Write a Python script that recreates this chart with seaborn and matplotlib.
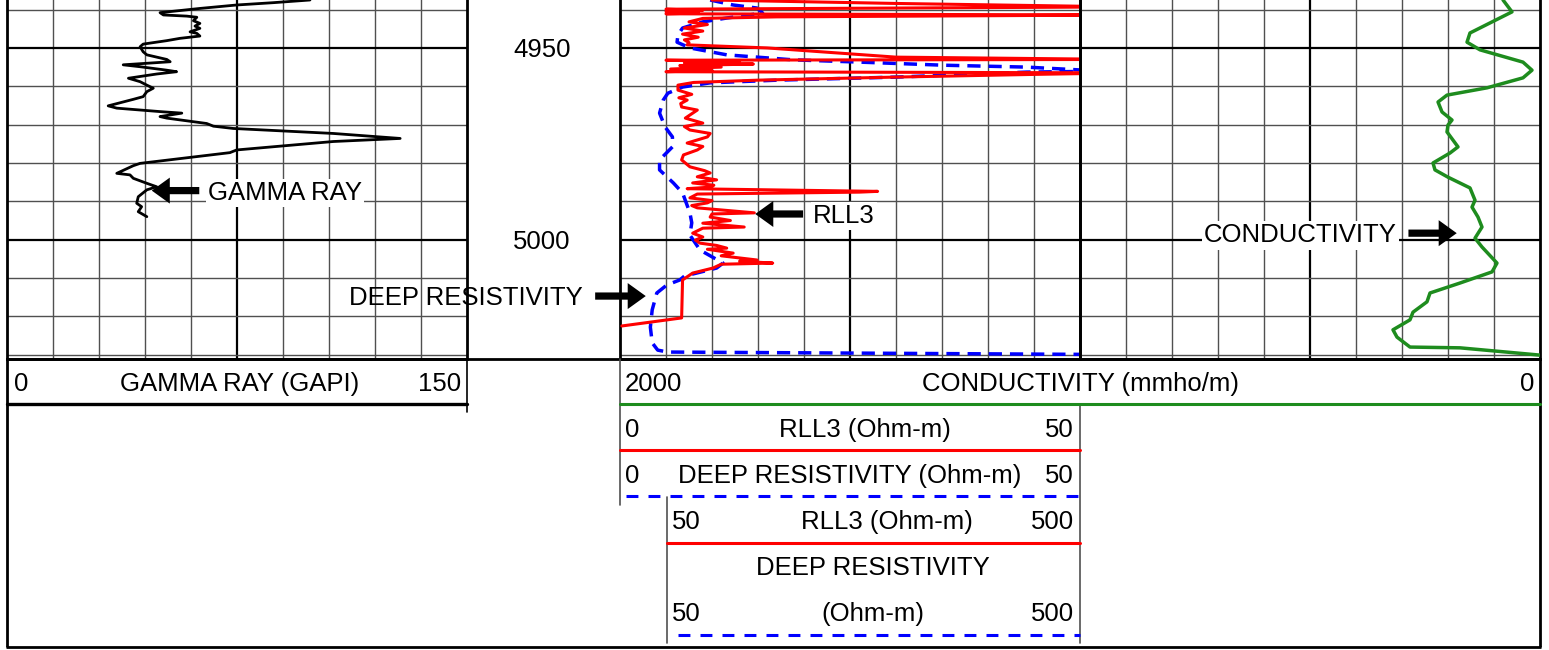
import numpy as np
import matplotlib
matplotlib.use("Agg")
import matplotlib.pyplot as plt
import seaborn as sns

# ---------------- data ----------------
gr_depth = [4937.5, 4938.2, 4938.8, 4939.7, 4940.8, 4941.4, 4941.7, 4942.0, 4942.9, 4943.6,
            4944.3, 4944.9, 4945.8, 4946.2, 4946.9, 4947.5, 4948.1, 4949.0, 4949.7, 4951.0,
            4951.8, 4953.0, 4953.6, 4954.0, 4954.4, 4954.9, 4955.8, 4956.2, 4956.8, 4957.9,
            4958.8, 4959.7, 4960.5, 4961.4, 4962.7, 4963.4, 4965.1, 4965.7, 4966.6, 4967.0,
            4967.9, 4968.3, 4969.7, 4970.4, 4971.0, 4972.3, 4973.6, 4974.4, 4976.6, 4977.3,
            4980.1, 4980.7, 4982.7, 4983.1, 4984.0, 4985.3, 4986.2, 4987.0, 4988.8, 4990.5,
            4991.4, 4992.7, 4994.0]
gr_val = [98.8, 86.8, 74.9, 62.9, 49.9, 51.0, 58.6, 61.9, 60.8, 62.9,
          61.3, 62.9, 59.7, 61.9, 62.9, 56.4, 52.1, 44.4, 43.4, 44.4,
          45.6, 52.1, 53.2, 45.6, 37.9, 43.4, 52.1, 55.3, 48.8, 39.6,
          43.4, 45.6, 47.7, 45.6, 44.4, 41.2, 33.0, 35.8, 49.9, 57.0,
          49.9, 52.1, 65.1, 67.3, 73.8, 106.4, 128.2, 106.4, 74.9, 72.7,
          43.4, 41.2, 35.8, 40.1, 41.2, 45.6, 48.8, 45.6, 42.8, 42.3,
          43.9, 42.8, 45.6]

rll3_depth = [4937.5, 4938.4, 4939.3, 4939.9, 4940.2, 4940.5, 4940.9, 4941.1, 4941.4, 4941.6,
              4941.9, 4942.3, 4943.2, 4943.9, 4944.8, 4945.6, 4946.4, 4947.2, 4947.9, 4948.6,
              4949.2, 4950.0, 4952.4, 4953.0, 4953.2, 4953.5, 4953.9, 4954.2, 4954.6, 4955.0,
              4955.5, 4955.9, 4956.2, 4956.5, 4956.9, 4957.6, 4958.4, 4959.0, 4959.7, 4961.0,
              4962.1, 4963.0, 4963.6, 4964.5, 4965.4, 4966.2, 4967.0, 4968.3, 4969.6, 4970.5,
              4971.4, 4972.3, 4973.2, 4974.8, 4975.7, 4976.6, 4977.9, 4979.2, 4981.0, 4982.0,
              4982.6, 4983.6, 4984.4, 4985.2, 4985.8, 4986.3, 4986.7, 4987.4, 4987.6, 4988.1,
              4989.1, 4989.8, 4990.4, 4991.1, 4991.7, 4993.0, 4993.3, 4994.1, 4995.0, 4995.7,
              4996.7, 4997.0, 4998.3, 4999.3, 5000.1, 5000.9, 5001.5, 5002.2, 5002.5, 5003.5,
              5004.2, 5005.3, 5005.6, 5006.1, 5006.4, 5007.4, 5008.7, 5010.5, 5020.4, 5022.5]
rll3_val = [10.0, 30.0, 55.0, 5.0, 9.0, 5.0, 8.5, 5.0, 55.0, 40.0,
            17.0, 9.0, 7.5, 9.5, 7.0, 9.0, 6.8, 8.5, 7.0, 7.5,
            7.3, 16.0, 30.0, 55.0, 5.0, 13.0, 7.0, 14.5, 6.5, 11.0,
            5.5, 10.0, 5.0, 55.0, 45.0, 30.0, 15.0, 8.0, 6.3, 6.3,
            7.8, 6.4, 7.3, 6.6, 6.7, 8.4, 7.9, 7.1, 9.0, 7.0,
            7.6, 9.8, 9.5, 7.3, 9.0, 8.4, 6.9, 6.7, 7.6, 9.2,
            9.8, 8.4, 10.5, 7.9, 10.2, 9.8, 7.3, 28.0, 26.0, 8.4,
            7.6, 10.0, 9.5, 7.8, 8.4, 14.6, 10.0, 9.8, 12.0, 9.0,
            13.5, 9.0, 7.9, 9.0, 8.2, 8.7, 10.5, 11.6, 9.5, 12.3,
            11.0, 14.9, 13.0, 16.6, 11.0, 10.1, 7.9, 6.8, 6.7, 0.2]

deep_depth = [4937.5, 4938.8, 4939.6, 4940.9, 4942.2, 4943.2, 4944.8, 4946.6, 4948.5, 4950.0,
              4951.8, 4953.1, 4953.7, 4954.5, 4955.0, 4955.8, 4956.0, 4956.3, 4957.6, 4958.4,
              4959.1, 4960.2, 4961.8, 4963.6, 4967.0, 4970.6, 4973.2, 4975.8, 4979.2, 4981.8,
              4985.2, 4987.8, 4993.0, 4995.6, 4998.8, 5002.7, 5006.1, 5007.4, 5009.5, 5010.5,
              5011.8, 5013.9, 5018.3, 5022.8, 5026.9, 5028.8, 5029.3, 5029.9, 5030.1]
deep_val = [9.8, 12.3, 14.9, 15.5, 11.6, 9.0, 6.8, 6.3, 6.2, 7.6,
            11.6, 18.8, 26.1, 35.1, 44.2, 50.5, 55.0, 44.2, 30.1, 17.1,
            9.8, 6.8, 5.2, 4.7, 4.3, 4.9, 5.7, 5.7, 4.3, 4.3,
            5.8, 6.8, 7.6, 7.8, 7.6, 8.7, 11.2, 10.5, 7.0, 6.5,
            5.1, 4.0, 3.5, 3.3, 3.5, 4.1, 5.2, 50.0, 55.0]

cond_depth = [4937.5, 4940.6, 4946.1, 4948.5, 4950.5, 4953.7, 4955.8, 4957.8, 4960.4, 4962.3,
              4964.1, 4966.7, 4968.8, 4970.1, 4971.9, 4975.8, 4977.4, 4980.0, 4981.8, 4983.7,
              4986.5, 4989.7, 4991.5, 4994.1, 4996.7, 4999.6, 5001.9, 5006.1, 5008.4, 5011.3,
              5013.9, 5016.2, 5018.9, 5020.9, 5023.5, 5025.4, 5028.0, 5028.2, 5030.1]
cond_val = [80.4, 60.9, 152.2, 158.7, 130.4, 37.0, 17.4, 37.0, 115.2, 202.2,
            221.7, 213.0, 191.3, 200.0, 202.2, 178.3, 195.7, 232.6, 228.3, 200.0,
            152.2, 141.3, 147.8, 134.8, 126.1, 141.3, 126.1, 93.5, 104.3, 173.9,
            239.1, 245.7, 276.1, 282.6, 319.6, 310.9, 282.6, 173.9, 0.0]

depth_labels = [4950, 5000]
gr_scale = (0, 150)
res_scale = (0, 50)
cond_scale = (2000, 0)       # spans both resistivity and conductivity tracks
cond_track_scale = (1000, 0)  # the part of that scale covered by the right-hand track

# ---------------- figure ----------------
sns.set_style("white")
plt.rcParams["font.family"] = ["Liberation Sans", "DejaVu Sans"]
plt.rcParams["text.color"] = "black"

W, H = 1549, 650
PX_PER_FT = 3.835
D_TOP = 4937.5 - 12 / PX_PER_FT
D_BOT = 4937.5 + 359 / PX_PER_FT
FS = 18.5
RED, BLUE, GREEN = "#ff0000", "#0000ff", "#1e8c1e"
GRAY = "#505050"

fig = plt.figure(figsize=(W / 100, H / 100), dpi=100)


def add_ax(x0, x1, y0=-12, y1=359):
    return fig.add_axes([x0 / W, 1 - y1 / H, (x1 - x0) / W, (y1 - y0) / H])


def style_track(ax, lim):
    ax.set_xlim(*lim)
    ax.set_ylim(D_BOT, D_TOP)
    xs = np.linspace(lim[0], lim[1], 11)
    for i, xv in enumerate(xs):
        if i in (0, 10):
            continue
        ax.axvline(xv, color="black" if i == 5 else GRAY,
                   lw=1.6 if i == 5 else 1.0, zorder=1)
    for d in range(4940, 5031, 10):
        major = d % 50 == 0
        ax.axhline(d, color="black" if major else GRAY,
                   lw=1.6 if major else 1.0, zorder=1)
    ax.set_xticks([])
    ax.set_yticks([])
    ax.set_xlabel("")
    ax.set_ylabel("")
    ax.spines["top"].set_visible(False)
    for s in ("left", "right", "bottom"):
        ax.spines[s].set_visible(True)
        ax.spines[s].set_color("black")
        ax.spines[s].set_linewidth(2.0)
    ax.patch.set_alpha(0)


ARROW = dict(arrowstyle="simple,head_length=0.5,head_width=0.72,tail_width=0.2",
             fc="black", ec="none", mutation_scale=26, shrinkA=0, shrinkB=0)
BOX = dict(boxstyle="square,pad=0.08", fc="white", ec="none")
BASE = 9.3 / PX_PER_FT  # baseline offset below cap centre, in feet

# gamma ray track
ax_gr = add_ax(7, 467)
sns.lineplot(x=gr_val, y=gr_depth, sort=False, estimator=None, orient="y",
             color="black", lw=2.0, ax=ax_gr, legend=False, zorder=3)
style_track(ax_gr, gr_scale)
ax_gr.annotate("", xy=(47.2, 4987.2), xytext=(62.7, 4987.2), arrowprops=ARROW, zorder=4)
ax_gr.text(65.5, 4987.2 + BASE, "GAMMA RAY", fontsize=FS, ha="left", va="baseline",
           bbox=BOX, zorder=4)

# depth track
ax_dp = add_ax(467, 620)
ax_dp.set_ylim(D_BOT, D_TOP)
ax_dp.set_xlim(0, 1)
ax_dp.axis("off")
for d in depth_labels:
    ax_dp.text(0.49, d + BASE, str(d), fontsize=FS, ha="center", va="baseline")

# resistivity track
ax_rs = add_ax(620, 1080)
sns.lineplot(x=deep_val, y=deep_depth, sort=False, estimator=None, orient="y",
             color=BLUE, lw=2.5, linestyle=(0, (3.8, 2.3)), ax=ax_rs, legend=False, zorder=3)
sns.lineplot(x=rll3_val, y=rll3_depth, sort=False, estimator=None, orient="y",
             color=RED, lw=2.2, ax=ax_rs, legend=False, zorder=3)
style_track(ax_rs, res_scale)
ax_rs.annotate("", xy=(14.7, 4993.3), xytext=(19.9, 4993.3), arrowprops=ARROW, zorder=4)
ax_rs.text(21.0, 4993.3 + BASE, "RLL3", fontsize=FS, ha="left", va="baseline",
           bbox=BOX, zorder=4)
ax_rs.annotate("", xy=(2.8, 5014.7), xytext=(-2.7, 5014.7), arrowprops=ARROW,
               annotation_clip=False, zorder=4)
ax_rs.text(-4.0, 5014.7 + BASE, "DEEP RESISTIVITY", fontsize=FS, ha="right",
           va="baseline", zorder=4, clip_on=False)

# conductivity track (grid) and conductivity curve axes (2000 -> 0 across both tracks)
ax_cd = add_ax(1080, 1540)
style_track(ax_cd, cond_track_scale)
ax_cc = add_ax(620, 1540)
sns.lineplot(x=cond_val, y=cond_depth, sort=False, estimator=None, orient="y",
             color=GREEN, lw=2.5, ax=ax_cc, legend=False, zorder=3)
ax_cc.set_xlim(*cond_scale)
ax_cc.set_ylim(D_BOT, D_TOP)
ax_cc.axis("off")
ax_cc.patch.set_alpha(0)
ax_cc.annotate("", xy=(181, 4998.3), xytext=(286, 4998.3), arrowprops=ARROW, zorder=4)
ax_cc.text(311.5, 4998.3 + BASE, "CONDUCTIVITY", fontsize=FS, ha="right", va="baseline",
           bbox=BOX, zorder=4)

# ---------------- header (pixel coordinates) ----------------
hx = fig.add_axes([0, 0, 1, 1])
hx.set_xlim(0, W)
hx.set_ylim(H, 0)
hx.axis("off")
hx.patch.set_alpha(0)

K = dict(color="black", lw=2.0, solid_capstyle="butt")
hx.plot([7, 1540], [359, 359], **K)
hx.plot([7, 7], [358, 647], **K)
hx.plot([1540, 1540], [358, 647], **K)
hx.plot([6, 1541], [647, 647], **K)
hx.plot([7, 467], [404, 404], color="black", lw=2.4)
hx.plot([467, 467], [359, 412], color="black", lw=1.2)
hx.plot([620, 620], [359, 505], color=GRAY, lw=1.2)
hx.plot([1080, 1080], [404, 643], color=GRAY, lw=1.2)
hx.plot([667, 667], [497, 643], color=GRAY, lw=1.2)
hx.plot([620, 1540], [404, 404], color=GREEN, lw=2.2)
hx.plot([620, 1080], [450, 450], color=RED, lw=2.2)
hx.plot([626, 1080], [496, 496], color=BLUE, lw=2.2, linestyle=(0, (3.9, 3.3)))
hx.plot([667, 1080], [543, 543], color=RED, lw=2.2)
hx.plot([678, 1080], [635, 635], color=BLUE, lw=2.2, linestyle=(0, (3.9, 3.3)))


def htext(x, yc, s, ha):
    hx.text(x, yc + 9.3, s, fontsize=FS, ha=ha, va="baseline")


htext(14, 382, "0", "left")
htext(240, 382, "GAMMA RAY (GAPI)", "center")
htext(461, 382, "150", "right")
htext(625, 382, "2000", "left")
htext(1081, 382, "CONDUCTIVITY (mmho/m)", "center")
htext(1534, 382, "0", "right")
htext(625, 428, "0", "left")
htext(865, 428, "RLL3 (Ohm-m)", "center")
htext(1074, 428, "50", "right")
htext(625, 474, "0", "left")
htext(850, 474, "DEEP RESISTIVITY (Ohm-m)", "center")
htext(1074, 474, "50", "right")
htext(672, 520, "50", "left")
htext(887, 520, "RLL3 (Ohm-m)", "center")
htext(1074, 520, "500", "right")
htext(873, 566, "DEEP RESISTIVITY", "center")
htext(672, 612, "50", "left")
htext(873, 612, "(Ohm-m)", "center")
htext(1074, 612, "500", "right")

fig.savefig("out.png", dpi=100, facecolor="white")
